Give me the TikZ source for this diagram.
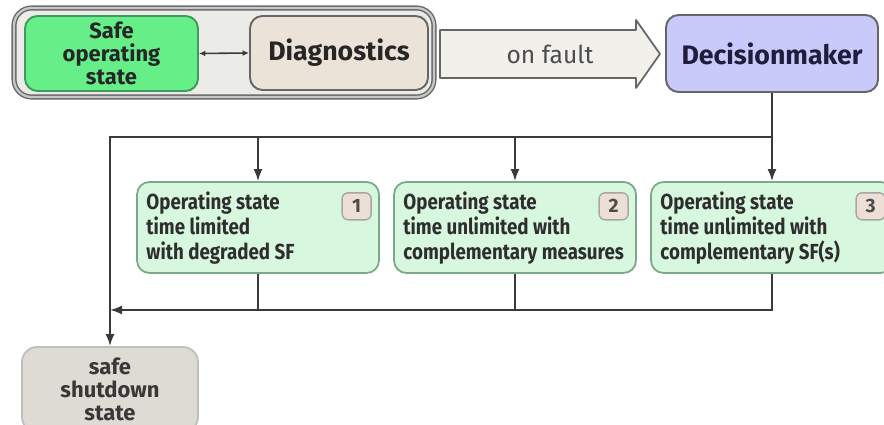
\documentclass[tikz,border=0pt]{standalone}
\usepackage{fontspec}
\setmainfont{Fira Sans}
\newfontfamily\narrowfont{Fira Sans}[FakeStretch=0.86]
\usetikzlibrary{arrows.meta}

\definecolor{linegray}{HTML}{3A3A3A}
\definecolor{grpfill}{HTML}{EBEBE8}
\definecolor{safefill}{HTML}{66EE88}
\definecolor{safeborder}{HTML}{3F9A5C}
\definecolor{diagfill}{HTML}{ECE3D8}
\definecolor{faultfill}{HTML}{F2F0EA}
\definecolor{dmfill}{HTML}{C9C9FA}
\definecolor{dmtext}{HTML}{1E1E3C}
\definecolor{opfill}{HTML}{D8F7DF}
\definecolor{opborder}{HTML}{7BA888}
\definecolor{badgefill}{HTML}{EEDFD6}
\definecolor{shutfill}{HTML}{DDDBD3}

\tikzset{
  flow/.style={draw=linegray, line width=1.1pt},
  tip/.style={-{Latex[length=2.4mm,width=1.8mm]}},
  bigbox/.style={rounded corners=2.5mm, line width=1.1pt, align=center, text=black!85,
    font=\bfseries\fontsize{15.2}{16}\selectfont},
  opbox/.style={draw=opborder, fill=opfill, rounded corners=2.5mm, line width=1pt,
    minimum width=4.84cm, minimum height=1.82cm},
  optext/.style={align=left, inner sep=0pt, text=black!82,
    font=\narrowfont\bfseries\fontsize{12.4}{14.2}\selectfont},
  badge/.style={draw=black!35, fill=badgefill, rounded corners=1.2mm, line width=0.8pt,
    minimum width=0.58cm, minimum height=0.54cm, inner sep=0pt, text=black!70,
    font=\bfseries\fontsize{11}{12}\selectfont}
}

\begin{document}
\begin{tikzpicture}
\useasboundingbox (0,0) rectangle (17.68,8.5);

% top row
\node[draw=black!60, fill=grpfill, rounded corners=3.5mm, line width=0.8pt,
  double=black!22, double distance=1.3pt, minimum width=8.4cm, minimum height=1.78cm] (grp) at (4.48,7.45) {};
\node[bigbox, draw=safeborder, fill=safefill, minimum width=3.46cm, minimum height=1.5cm,
  text=black!85, font=\bfseries\fontsize{12.5}{13}\selectfont] (safe) at (2.23,7.43) {Safe\\operating\\state};
\node[bigbox, draw=black!60, fill=diagfill, minimum width=3.56cm, minimum height=1.48cm] (diag) at (6.78,7.44) {Diagnostics};
\draw[draw=linegray, line width=0.9pt, {Latex[length=1.3mm,width=1.2mm]}-{Latex[length=1.3mm,width=1.2mm]}] (safe.east) -- (diag.west);

\draw[draw=black!60, fill=faultfill, line width=1pt, line join=round]
  (8.8,6.94) -- (12.72,6.94) -- (12.72,6.74) -- (13.2,7.42) -- (12.72,8.1) -- (12.72,7.9) -- (8.8,7.9) -- cycle;
\node[text=black!70, font=\fontsize{14}{15}\selectfont] (fault) at (11.0,7.42) {on fault};
\node[bigbox, draw=black!60, fill=dmfill, minimum width=4.24cm, minimum height=1.54cm,
  text=dmtext] (dm) at (15.44,7.43) {Decisionmaker};

% operating states
\node[opbox] (op1) at (5.16,3.95) {};
\node[opbox] (op2) at (10.3,3.95) {};
\node[opbox] (op3) at (15.44,3.95) {};
\node[optext, anchor=north west] (t1) at ([xshift=0.2cm,yshift=-0.2cm]op1.north west) {Operating state\\time limited\\with degraded SF};
\node[optext, anchor=north west] (t2) at ([xshift=0.2cm,yshift=-0.2cm]op2.north west) {Operating state\\time unlimited with\\complementary measures};
\node[optext, anchor=north west] (t3) at ([xshift=0.2cm,yshift=-0.2cm]op3.north west) {Operating state\\time unlimited with\\complementary SF(s)};
\node[badge, anchor=north east] (n1) at ([xshift=-0.16cm,yshift=-0.22cm]op1.north east) {1};
\node[badge, anchor=north east] (n2) at ([xshift=-0.16cm,yshift=-0.22cm]op2.north east) {2};
\node[badge, anchor=north east] (n3) at ([xshift=-0.16cm,yshift=-0.22cm]op3.north east) {3};

\node[draw=black!25, fill=shutfill, rounded corners=3mm, line width=1pt, minimum width=3.52cm,
  minimum height=1.7cm, align=center, text=black!78,
  font=\bfseries\fontsize{12.5}{13.2}\selectfont] (shut) at (2.2,0.71) {safe\\shutdown\\state};

% connectors
\coordinate (split) at (15.44,5.76);
\coordinate (merge) at (15.44,2.3);
\draw[flow, tip] (dm.south) -- (split) -| (shut.north);
\foreach \b in {op1,op2,op3}
  \draw[flow, tip] (split -| \b.north) -- (\b.north);
\foreach \b in {op1,op2}
  \draw[flow] (\b.south) -- (merge -| \b.south);
\draw[flow, tip] (op3.south) -- (merge) -- (merge -| shut.north);
\end{tikzpicture}
\end{document}
